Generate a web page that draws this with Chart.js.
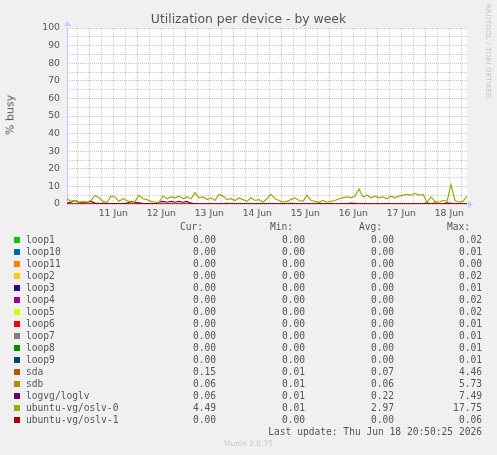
<!DOCTYPE html>
<html>
<head>
<meta charset="utf-8" />
<script src="https://cdn.jsdelivr.net/npm/chart.js"></script>
<style>
  html, body { margin: 0; padding: 0; background: #f0f0f0; }
  body { width: 497px; height: 455px; position: relative; overflow: hidden; font-family: "DejaVu Sans", sans-serif; color: #555; }
  #wrap { position: absolute; left: 0; top: 0; width: 497px; height: 225px; }
  .abs { position: absolute; white-space: pre; }
  #title { left: 0; width: 497px; top: 11px; text-align: center; font-size: 12.4px; color: #555; }
  #ylabel { left: 10px; top: 115px; font-size: 11px; transform: translate(-50%, -50%) rotate(-90deg); }
  #rrd { left: 484px; top: 4px; font-size: 7px; color: #c4c4c4; writing-mode: vertical-rl; letter-spacing: 0.2px; }
  .mono { font-family: "DejaVu Sans Mono", monospace; font-size: 9.6px; color: #555; line-height: 12px; }
  .sq { position: absolute; width: 6px; height: 6px; }
  #munin { left: 0; width: 497px; top: 439px; text-align: center; font-size: 7.5px; color: #c8c8c8; }
</style>
</head>
<body>
<div id="wrap"><canvas id="chart" width="497" height="225"></canvas></div>
<div id="title" class="abs">Utilization per device - by week</div>
<div id="ylabel" class="abs">% busy</div>
<div id="rrd" class="abs">RRDTOOL / TOBI OETIKER</div>
<div id="legend"></div>
<div id="munin" class="abs">Munin 2.0.75</div>
<script>
// hours since Jun 10 00:00; week window ends at Jun 18 20:50
const startHour = 12.83;
const endHour = 212.83;
const stepHours = 2;
const dayLabels = ["11 Jun", "12 Jun", "13 Jun", "14 Jun", "15 Jun", "16 Jun", "17 Jun", "18 Jun"];

const seriesNames = ["loop1", "loop10", "loop11", "loop2", "loop3", "loop4", "loop5", "loop6", "loop7", "loop8", "loop9",
  "sda", "sdb", "logvg/loglv", "ubuntu-vg/oslv-0", "ubuntu-vg/oslv-1"];
const seriesColors = ["#00cc00", "#0066b3", "#ff8000", "#ffcc00", "#330099", "#990099", "#ccff00", "#ff0000", "#808080",
  "#008f00", "#00487d", "#b35a00", "#b38f00", "#6b006b", "#8fb300", "#b30000"];
const curVals = ["0.00","0.00","0.00","0.00","0.00","0.00","0.00","0.00","0.00","0.00","0.00","0.15","0.06","0.06","4.49","0.00"];
const minVals = ["0.00","0.00","0.00","0.00","0.00","0.00","0.00","0.00","0.00","0.00","0.00","0.01","0.01","0.01","0.01","0.00"];
const avgVals = ["0.00","0.00","0.00","0.00","0.00","0.00","0.00","0.00","0.00","0.00","0.00","0.07","0.06","0.22","2.97","0.00"];
const maxVals = ["0.02","0.01","0.00","0.02","0.01","0.02","0.02","0.01","0.01","0.01","0.01","4.46","5.73","7.49","17.75","0.06"];

// idle devices: flat at zero over the whole window
const flatZero = [0, 0];

// sampled every 2 hours from startHour
const sda = [0.1,0.1,0.1,0.6,0.1,0.1,0.1,0.1,0.1,0.5, 0.1,0.1,0.1,0.1,0.1,0.1,0.1,0.1,0.8,0.1,
  0.1,0.1,0.1,0.1,0.4,0.1,0.1,0.1,0.1,0.1, 0.1,0.6,0.1,0.1,0.1,0.1,0.1,0.1,0.1,0.1,
  0.5,0.1,0.1,0.1,0.1,0.1,0.1,0.1,0.4,0.1, 0.1,0.1,0.1,0.1,0.1,0.1,0.5,0.1,0.1,0.1,
  0.1,0.1,0.1,0.6,0.1,0.1,0.1,0.1,0.1,0.1, 0.1,0.1,0.5,0.1,0.1,0.1,0.1,0.1,0.1,0.1,
  0.4,0.1,0.1,0.1,0.1,0.1,0.1,0.1,0.1,0.1, 0.8,0.1,0.6,0.1,0.1,0.1,0.5,0.1,0.1,0.1, 0.15];
const sdb = [0.05,0.05,0.05,0.05,0.05,0.05,0.05,0.05,0.05,0.05, 0.4,0.05,0.05,0.05,0.05,0.05,0.05,0.05,0.05,0.05,
  0.05,0.05,0.05,0.05,0.05,0.05,0.05,0.05,0.05,0.05, 0.05,0.05,0.05,0.05,0.05,0.05,0.05,0.05,0.05,0.05,
  0.05,0.05,0.05,0.05,0.05,0.3,0.05,0.05,0.05,0.05, 0.05,0.05,0.05,0.05,0.05,0.05,0.05,0.05,0.05,0.05,
  0.05,0.05,0.05,0.05,0.05,0.05,0.05,0.05,0.05,0.05, 0.4,0.05,0.05,0.05,0.05,0.05,0.05,0.05,0.05,0.05,
  0.05,0.05,0.05,0.05,0.05,0.05,0.05,0.05,0.05,0.05, 0.05,0.05,0.05,0.05,0.05,0.3,0.05,0.05,0.05,0.05, 0.06];
const logvg = [0.5,1,2,1,0.5,1,1.5,0.5,0.3,0.2, 0.2,0.2,0.2,0.2,0.2,0.5,1.5,1,0.5,0.2,
  0.2,0.2,0.2,1,1.5,1,1.5,1,1.5,1, 1.5,0.3,0.1,0.1,0.1,0.1,0.1,0.1,0.1,0.1,
  0.1,0.1,0.1,0.1,0.1,0.1,0.1,0.1,0.1,0.1, 0.1,0.1,0.1,0.1,0.1,0.1,0.1,0.1,0.1,0.1,
  0.1,0.1,0.1,0.1,0.1,0.1,0.1,0.1,0.1,0.1, 0.1,0.5,0.1,0.1,0.1,0.1,0.1,0.1,0.1,0.1,
  0.1,0.1,0.1,0.1,0.1,0.1,0.1,0.1,0.1,0.1, 0.1,0.1,0.1,0.1,0.1,0.6,0.1,0.1,0.1,0.1, 0.06];
const oslv0 = [3,1.5,2,1,1.5,1,2,5,3.5,1.5, 1,4.5,4,1.5,3,2,1,1.5,5,3,
  2.5,1.5,1,1,4.5,3,4,3.5,4.5,3, 4,3,6.5,3.5,4,2.5,3.5,2,5.5,4.5,
  2.5,3,2,3.5,2.5,1.5,3.5,2,2.5,1, 3,5.5,3,2,1,1.5,2.5,3.5,2,1.5,
  5,2,1.5,1,2,1,1.5,2,3,3.5, 4,3.5,4.5,8.5,4,5,3.5,4.5,3.5,4,
  3,4.5,3.5,4.5,5,5.5,5,6,5,5.5, 1,4,1.5,1,2,1.5,11,2,1,1.5, 4.5];

function sampled(values) {
  return values.map((v, i) => ({ x: startHour + i * stepHours, y: v }));
}
function flat(values) {
  return [{ x: startHour, y: values[0] }, { x: endHour, y: values[1] }];
}

const seriesData = seriesNames.map((name) => {
  if (name === "sda") return sampled(sda);
  if (name === "sdb") return sampled(sdb);
  if (name === "logvg/loglv") return sampled(logvg);
  if (name === "ubuntu-vg/oslv-0") return sampled(oslv0);
  return flat(flatZero);
});

// legend table below the graph
const legend = document.getElementById("legend");
function addText(txt, left, right, top) {
  const d = document.createElement("div");
  d.className = "abs mono";
  d.textContent = txt;
  d.style.top = (top - 6) + "px";
  if (left != null) d.style.left = left + "px";
  else d.style.right = (497 - right) + "px";
  legend.appendChild(d);
}
addText("Cur:", null, 203, 227);
addText("Min:", null, 293, 227);
addText("Avg:", null, 382, 227);
addText("Max:", null, 470, 227);
seriesNames.forEach((name, i) => {
  const y = 239.7 + i * 12;
  const sq = document.createElement("div");
  sq.className = "sq";
  sq.style.left = "14px";
  sq.style.top = (y - 3) + "px";
  sq.style.background = seriesColors[i];
  legend.appendChild(sq);
  addText(name, 26, null, y);
  addText(curVals[i], null, 216, y);
  addText(minVals[i], null, 305, y);
  addText(avgVals[i], null, 394, y);
  addText(maxVals[i], null, 482, y);
});
addText("Last update: Thu Jun 18 20:50:25 2026", null, 482, 431.7);

const arrows = {
  id: "arrows",
  afterDraw(chart) {
    const { ctx, chartArea: a } = chart;
    ctx.save();
    ctx.fillStyle = "#c8c8ff";
    ctx.beginPath();
    ctx.moveTo(a.left - 3, a.top - 2);
    ctx.lineTo(a.left + 0.5, a.top - 7);
    ctx.lineTo(a.left + 4, a.top - 2);
    ctx.closePath();
    ctx.fill();
    ctx.beginPath();
    ctx.moveTo(a.right + 1, a.bottom - 3.5);
    ctx.lineTo(a.right + 6, a.bottom + 0.5);
    ctx.lineTo(a.right + 1, a.bottom + 4);
    ctx.closePath();
    ctx.fill();
    ctx.restore();
  }
};

const whiteArea = {
  id: "whiteArea",
  beforeDraw(chart) {
    const { ctx, chartArea: a } = chart;
    ctx.save();
    ctx.fillStyle = "#ffffff";
    ctx.fillRect(a.left, a.top, a.right - a.left, a.bottom - a.top);
    ctx.restore();
  }
};

const gridTicks = [];
for (let h = 18; h <= 210; h += 6) gridTicks.push(h);

const majorGrid = "rgba(235,110,110,0.5)";
const minorGrid = "#cdcdcd";

new Chart(document.getElementById("chart"), {
  type: "line",
  data: {
    datasets: seriesNames.map((name, i) => ({
      label: name,
      data: seriesData[i],
      borderColor: seriesColors[i],
      backgroundColor: seriesColors[i],
      borderWidth: 1.2,
      pointRadius: 0,
      tension: 0,
      order: seriesNames.length - i
    }))
  },
  options: {
    responsive: false,
    animation: false,
    events: [],
    layout: { padding: { top: 28, right: 30, left: 0, bottom: 0 } },
    plugins: { legend: { display: false }, tooltip: { enabled: false }, title: { display: false } },
    scales: {
      x: {
        type: "linear",
        min: startHour,
        max: endHour,
        afterBuildTicks: (s) => { s.ticks = gridTicks.map((v) => ({ value: v })); },
        afterFit: (s) => { s.height = 21; },
        ticks: {
          autoSkip: false,
          maxRotation: 0,
          padding: 4,
          color: "#555",
          font: { family: "DejaVu Sans", size: 9.3 },
          callback: (v) => (v % 24 === 12 ? dayLabels[Math.round((v - 36) / 24)] : "")
        },
        grid: {
          drawTicks: false,
          lineWidth: 1,
          color: (c) => (c.tick && c.tick.value % 24 === 0 ? majorGrid : minorGrid)
        },
        border: { display: false, dash: [1, 1] }
      },
      y: {
        min: 0,
        max: 100,
        afterFit: (s) => { s.width = 67; },
        ticks: {
          stepSize: 5,
          autoSkip: false,
          padding: 7,
          color: "#555",
          font: { family: "DejaVu Sans", size: 9.3 },
          callback: (v) => (v % 10 === 0 ? String(v) : "")
        },
        grid: {
          drawTicks: false,
          lineWidth: 1,
          color: (c) => (c.tick && c.tick.value % 10 === 0 ? majorGrid : minorGrid)
        },
        border: { display: true, color: "#c8c8ff", width: 1, dash: [1, 1] }
      }
    }
  },
  plugins: [whiteArea, arrows]
});
</script>
</body>
</html>
